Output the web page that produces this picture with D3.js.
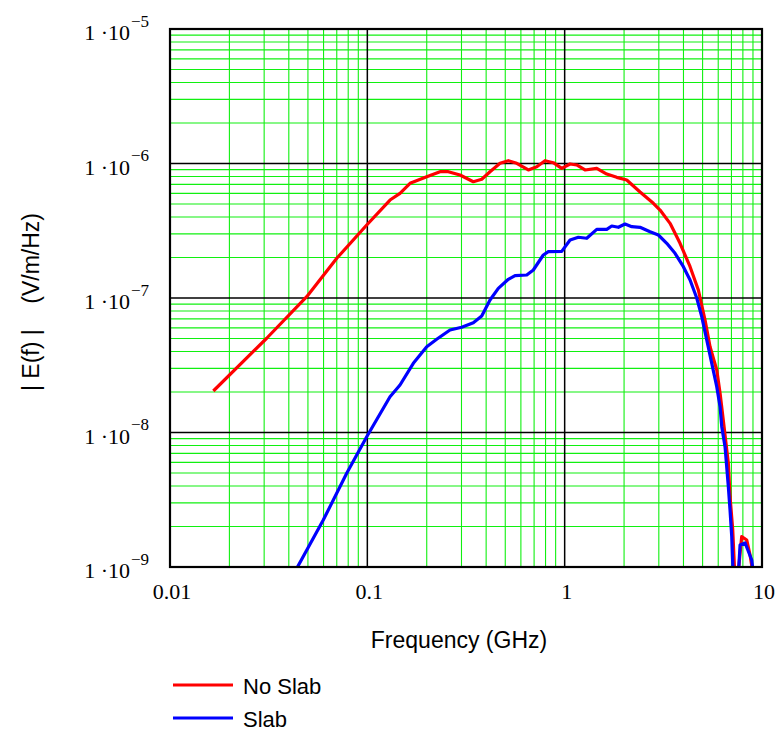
<!DOCTYPE html>
<html>
<head>
<meta charset="utf-8">
<script src="https://cdn.jsdelivr.net/npm/d3@7"></script>
<style>
  html, body { margin: 0; padding: 0; background: #fff; }
  svg { display: block; }
  .serif { font-family: "Liberation Serif", "Times New Roman", serif; fill: #000; }
  .sans { font-family: "Liberation Sans", Arial, sans-serif; fill: #000; white-space: pre; }
</style>
</head>
<body>
<svg id="chart" width="781" height="733"></svg>
<script>
// Spectrum magnitude without the slab (GHz, V/m/Hz)
const freqNoSlab = [0.01658, 0.0309, 0.0493, 0.0700, 0.0993, 0.1303, 0.1464, 0.1646, 0.2000, 0.2336,
  0.2573, 0.2949, 0.3444, 0.3799, 0.4185, 0.4704, 0.5182, 0.5716, 0.6545, 0.7221,
  0.7952, 0.8761, 0.9663, 1.065, 1.151, 1.268, 1.454, 1.634, 1.836, 2.063,
  2.410, 2.815, 3.043, 3.420, 3.843, 4.320, 4.758, 5.145, 5.454, 5.898,
  6.131, 6.423, 6.753, 6.887, 7.107, 7.30, 7.516, 7.89, 8.37, 8.70, 9.11];
const magNoSlab = [2.035e-8, 5.02e-8, 1.022e-7, 1.973e-7, 3.49e-7, 5.35e-7, 6.00e-7, 7.12e-7, 7.98e-7, 8.69e-7,
  8.69e-7, 8.21e-7, 7.32e-7, 7.63e-7, 8.69e-7, 1.003e-6, 1.049e-6, 1.003e-6, 8.95e-7, 9.47e-7,
  1.049e-6, 1.014e-6, 9.21e-7, 9.92e-7, 9.75e-7, 8.95e-7, 9.21e-7, 8.35e-7, 7.89e-7, 7.54e-7,
  6.14e-7, 5.06e-7, 4.51e-7, 3.59e-7, 2.55e-7, 1.709e-7, 1.147e-7, 6.86e-8, 4.34e-8, 2.915e-8,
  1.956e-8, 1.104e-8, 5.90e-9, 3.33e-9, 1.884e-9, 8e-10, 8e-10, 1.68e-9, 1.587e-9, 1.227e-9, 8e-10];

// Spectrum magnitude with the slab (GHz, V/m/Hz)
const freqSlab = [0.0439, 0.0598, 0.0786, 0.0993, 0.1303, 0.1464, 0.1710, 0.2000, 0.2246, 0.2624,
  0.3008, 0.3444, 0.3799, 0.4185, 0.4610, 0.5182, 0.5605, 0.6424, 0.6937, 0.7794,
  0.8263, 0.9663, 1.065, 1.173, 1.294, 1.454, 1.634, 1.732, 1.871, 2.023,
  2.188, 2.410, 2.708, 2.984, 3.291, 3.625, 3.995, 4.320, 4.670, 4.950,
  5.248, 5.565, 5.898, 6.131, 6.252, 6.497, 6.753, 6.887, 7.026, 7.159,
  7.561, 7.742, 8.21, 8.87, 9.11];
const magSlab = [9.78e-10, 2.235e-9, 4.97e-9, 9.30e-9, 1.846e-8, 2.254e-8, 3.27e-8, 4.34e-8, 4.93e-8, 5.78e-8,
  6.06e-8, 6.55e-8, 7.35e-8, 9.66e-8, 1.180e-7, 1.377e-7, 1.465e-7, 1.483e-7, 1.615e-7, 2.088e-7,
  2.209e-7, 2.22e-7, 2.70e-7, 2.83e-7, 2.78e-7, 3.24e-7, 3.24e-7, 3.43e-7, 3.355e-7, 3.55e-7,
  3.39e-7, 3.355e-7, 3.11e-7, 2.94e-7, 2.55e-7, 2.15e-7, 1.709e-7, 1.361e-7, 1.0e-7, 7.26e-8,
  4.87e-8, 3.27e-8, 2.19e-8, 1.555e-8, 1.104e-8, 7.84e-9, 3.95e-9, 2.65e-9, 1.68e-9, 8e-10,
  8e-10, 1.458e-9, 1.509e-9, 1.127e-9, 8e-10];

const xTickValues = [0.01, 0.1, 1, 10];
const xTickLabels = ["0.01", "0.1", "1", "10"];
const yTickValues = [1e-5, 1e-6, 1e-7, 1e-8, 1e-9];
const yTickExponents = ["\u22125", "\u22126", "\u22127", "\u22128", "\u22129"];

const seriesNames = ["No Slab", "Slab"];
const seriesColors = ["#ff0000", "#0000ff"];

const svg = d3.select("#chart");
const plotL = 170, plotR = 762, plotT = 29, plotB = 567;

const x = d3.scaleLog().domain([0.01, 10]).range([plotL, plotR]);
const y = d3.scaleLog().domain([1e-9, 1e-5]).range([plotB, plotT]);

const isDecade = v => Math.abs(Math.log10(v) - Math.round(Math.log10(v))) < 1e-9;

// minor (green) grid
const grid = svg.append("g");
const xMinor = x.ticks().filter(v => !isDecade(v));
const yMinor = y.ticks().filter(v => !isDecade(v));
grid.selectAll("line.xm").data(xMinor).join("line")
  .attr("x1", d => x(d)).attr("x2", d => x(d)).attr("y1", plotT).attr("y2", plotB)
  .attr("stroke", "#10f010").attr("stroke-width", 1.1);
grid.selectAll("line.ym").data(yMinor).join("line")
  .attr("y1", d => y(d)).attr("y2", d => y(d)).attr("x1", plotL).attr("x2", plotR)
  .attr("stroke", "#10f010").attr("stroke-width", 1.1);

// decade (black) grid
grid.selectAll("line.xd").data(xTickValues.slice(1, -1)).join("line")
  .attr("x1", d => x(d)).attr("x2", d => x(d)).attr("y1", plotT).attr("y2", plotB)
  .attr("stroke", "#000").attr("stroke-width", 1.5);
grid.selectAll("line.yd").data(yTickValues.slice(1, -1)).join("line")
  .attr("y1", d => y(d)).attr("y2", d => y(d)).attr("x1", plotL).attr("x2", plotR)
  .attr("stroke", "#000").attr("stroke-width", 1.5);

// curves
svg.append("clipPath").attr("id", "plotClip").append("rect")
  .attr("x", plotL).attr("y", plotT).attr("width", plotR - plotL).attr("height", plotB - plotT);

const line = d3.line().x(d => x(d[0])).y(d => y(d[1]));
const series = [
  d3.zip(freqNoSlab, magNoSlab),
  d3.zip(freqSlab, magSlab)
];
const curves = svg.append("g").attr("clip-path", "url(#plotClip)");
series.forEach((s, i) => {
  curves.append("path").datum(s)
    .attr("d", line)
    .attr("fill", "none")
    .attr("stroke", seriesColors[i])
    .attr("stroke-width", 3.2)
    .attr("stroke-linejoin", "round");
});

// frame
svg.append("rect").attr("x", plotL).attr("y", plotT)
  .attr("width", plotR - plotL).attr("height", plotB - plotT)
  .attr("fill", "none").attr("stroke", "#000").attr("stroke-width", 2.2);

// x tick labels
svg.append("g").selectAll("text").data(xTickValues).join("text")
  .attr("class", "serif")
  .attr("x", d => x(d) + 2)
  .attr("y", 599)
  .attr("text-anchor", "middle")
  .attr("font-size", 22)
  .text((d, i) => xTickLabels[i]);

// y tick labels: 1 ·10^n
const yl = svg.append("g").selectAll("g").data(yTickValues).join("g");
yl.append("text")
  .attr("class", "serif")
  .attr("x", 130)
  .attr("y", d => y(d) + 11)
  .attr("text-anchor", "end")
  .attr("font-size", 22)
  .text("1 \u00B710");
yl.append("text")
  .attr("class", "serif")
  .attr("x", 131)
  .attr("y", d => y(d) - 2.5)
  .attr("font-size", 17)
  .text((d, i) => yTickExponents[i]);

// axis titles
svg.append("text").attr("class", "sans")
  .attr("x", 459).attr("y", 648)
  .attr("text-anchor", "middle")
  .attr("font-size", 23)
  .text("Frequency (GHz)");

svg.append("text").attr("class", "sans")
  .attr("transform", "translate(39,302) rotate(-90)")
  .attr("text-anchor", "middle")
  .attr("font-size", 23)
  .text("| E(f) |    (V/m/Hz)");

// legend
const legend = svg.append("g").selectAll("g").data(seriesNames).join("g")
  .attr("transform", (d, i) => `translate(0,${685 + i * 33})`);
legend.append("line")
  .attr("x1", 173).attr("x2", 233).attr("y1", 0).attr("y2", 0)
  .attr("stroke", (d, i) => seriesColors[i]).attr("stroke-width", 3.2);
legend.append("text").attr("class", "sans")
  .attr("x", 243).attr("y", 9)
  .attr("font-size", 22)
  .text(d => d);
</script>
</body>
</html>
